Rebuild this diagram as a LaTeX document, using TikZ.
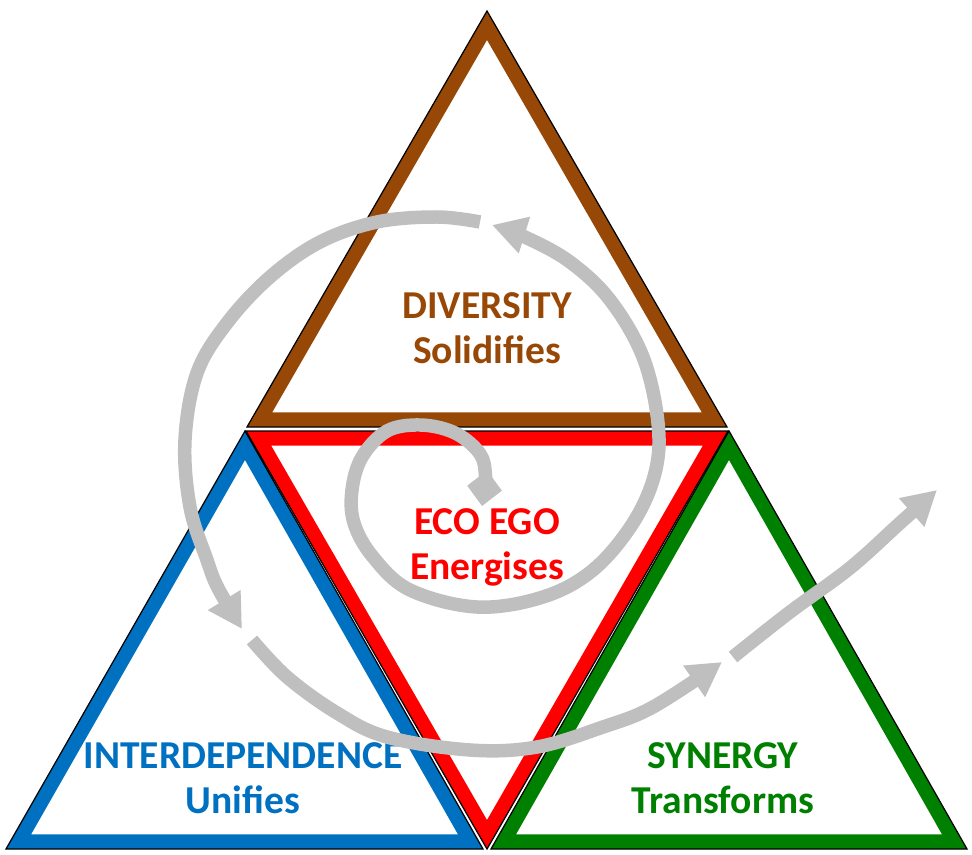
\documentclass[tikz,border=0pt]{standalone}
\usepackage{fontspec}
\setmainfont{Carlito}
\usepackage{xcolor}
\usepackage{tikz}
\usetikzlibrary{arrows.meta, calc}
\definecolor{ecobrown}{RGB}{152, 72, 6}
\definecolor{ecoblue}{RGB}{0, 112, 192}
\definecolor{ecored}{RGB}{255, 0, 0}
\definecolor{ecogreen}{RGB}{0, 128, 0}
\definecolor{ecogray}{RGB}{191, 191, 191}
\tikzset{
  lbl/.style={font=\bfseries\fontsize{22.5}{25.6}\selectfont, align=center},
  outline/.style={draw=black, line width=0.7pt, line join=miter},
  swirl/.style={draw=ecogray, line width=0.27cm},
  head/.style={-{Triangle[length=0.68cm, width=0.72cm]}},
}
% coloured band inside a triangle, black rim outside
\newcommand{\ecotri}[4]{%
  \coordinate (t1) at #2; \coordinate (t2) at #3; \coordinate (t3) at #4;
  \coordinate (tc) at (barycentric cs:t1=1,t2=1,t3=1);
  \fill[#1, even odd rule] (t1) -- (t2) -- (t3) -- cycle
    ($(t1)!0.58cm!(tc)$) -- ($(t2)!0.58cm!(tc)$) -- ($(t3)!0.58cm!(tc)$) -- cycle;
  \draw[outline] (t1) -- (t2) -- (t3) -- cycle;
}
\begin{document}
\begin{tikzpicture}[x=0.02cm, y=-0.02cm]
    \useasboundingbox (0,0) rectangle (972,854);
    \ecotri{ecobrown}{(487,11)}{(727,427)}{(247,427)}
    \ecotri{ecoblue}{(245,431)}{(483,849)}{(6,849)}
    \ecotri{ecogreen}{(729,431)}{(967,849)}{(491,849)}
    \ecotri{ecored}{(246,431)}{(728,431)}{(487,849)}

    \node[lbl, text=ecobrown] (div) at (487,328) {DIVERSITY\\Solidifies};
    \node[lbl, text=ecored] (eco) at (487,547) {ECO EGO\\Energises};
    \node[lbl, text=ecoblue] (inter) at (243,778) {INTERDEPENDENCE\\Unifies};
    \node[lbl, text=ecogreen] (syn) at (723,778) {SYNERGY\\Transforms};

    % the spiral, from the centre outwards
    \draw[swirl, {Diamond[length=0.72cm, width=0.7cm]}-{Triangle[length=0.68cm, width=0.72cm]}]
      plot[smooth, tension=0.6] coordinates {(482,506) (485,470) (477,450) (453,432)
      (420,425) (387,431) (362,457) (352,490) (354,523) (373,557) (410,590) (477,607)
      (543,597) (593,570) (633,523) (655,473) (658,423) (643,357) (610,300) (570,262)
      (527,238) (492,225)};
    \draw[swirl, head] plot[smooth, tension=0.6] coordinates {(480,222) (437,217)
      (377,222) (320,242) (270,277) (227,323) (197,373) (185,440) (190,507) (207,560)
      (218,588) (242,629)};
    \draw[swirl, head] plot[smooth, tension=0.6] coordinates {(252,640) (287,677)
      (337,713) (387,737) (470,750) (537,747) (603,727) (653,707) (722,662)};
    \draw[swirl, head] plot[smooth, tension=0.6] coordinates {(733,657) (790,612)
      (850,568) (900,523) (937,490)};
\end{tikzpicture}
\end{document}
